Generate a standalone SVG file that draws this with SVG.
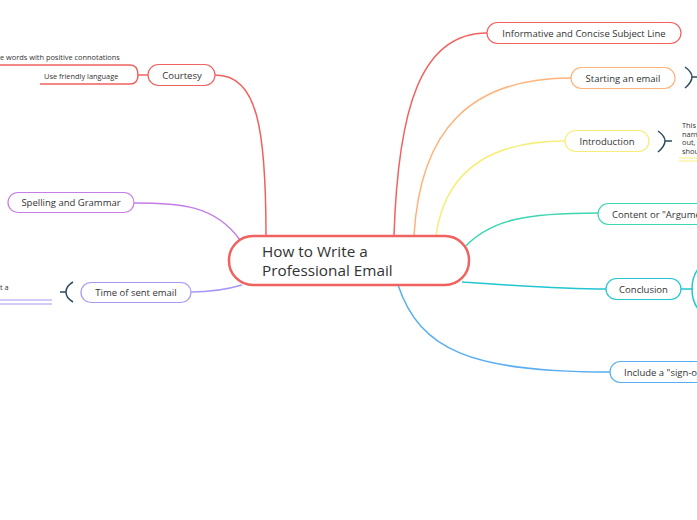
<svg xmlns="http://www.w3.org/2000/svg" width="697" height="520" viewBox="0 0 697 520">
<style>
text{font-family:"Open Sans","Lato","Liberation Sans",sans-serif;fill:#333}
.n{font-size:9.5px;text-anchor:middle;dominant-baseline:central}
.s{font-size:7.4px}
.c{fill:none;stroke-width:1.5}
rect{fill:#fff;stroke-width:1.2}
.br{fill:none;stroke:#2e4a5c;stroke-width:1.5}
</style>
<rect x="0" y="0" width="697" height="520" fill="#fdfdfd" stroke="none"/>
<g id="connectors">
<path class="c" stroke="#f0625f" d="M266,236 C266,130 258,75 215,75"/>
<path class="c" stroke="#c57ce8" d="M240,240 C215,205 180,203 134,203"/>
<path class="c" stroke="#a797f5" d="M242,285 C225,290 210,292 191,292"/>
<path class="c" stroke="#f0625f" d="M394,236 C398,110 420,33 487,33"/>
<path class="c" stroke="#ffb27a" d="M414,236 C420,130 470,78 571,78"/>
<path class="c" stroke="#f7ee7a" d="M436,236 C445,170 490,141 565,141"/>
<path class="c" stroke="#3fd6b2" d="M462,250 C490,218 530,213 598,213"/>
<path class="c" stroke="#22c5d0" d="M462,282 C520,286 560,289 606,289"/>
<path class="c" stroke="#5aaef0" d="M398,285 C420,350 470,372 610,372"/>
</g>
<g id="center">
<rect x="229" y="236" width="240" height="49" rx="24" stroke="#f0625f" style="stroke-width:2.5"/>
<text x="262" y="257" font-size="15.3">How to Write a</text>
<text x="262" y="276" font-size="15.3">Professional Email</text>
</g>
<g id="courtesy">
<line x1="138" y1="75" x2="148" y2="75" stroke="#f0625f" stroke-width="1.5"/>
<rect x="148" y="64.5" width="67" height="21" rx="10.5" stroke="#f0625f"/>
<text class="n" x="182" y="75">Courtesy</text>
</g>
<g id="positive-words">
<path class="c" stroke="#f0625f" d="M0,65 H130 Q138,65 138,75"/>
<text class="s" x="0" y="60">e words with positive connotations</text>
</g>
<g id="friendly-language">
<path class="c" stroke="#f0625f" d="M40,84 H130 Q138,84 138,75"/>
<text class="s" x="44" y="79">Use friendly language</text>
</g>
<g id="spelling">
<rect x="8" y="192.5" width="126" height="20" rx="10" stroke="#c57ce8"/>
<text class="n" x="71" y="202.5">Spelling and Grammar</text>
</g>
<g id="time-sent">
<rect x="81" y="282.5" width="110" height="20" rx="10" stroke="#a797f5"/>
<text class="n" x="136" y="292.5">Time of sent email</text>
<path class="br" d="M73,282 Q66,286 66,292 Q66,298 73,302 M66,292 H60"/>
</g>
<g id="time-child">
<text class="s" x="0" y="290">t a</text>
<line x1="0" y1="300" x2="52" y2="300" stroke="#a797f5" stroke-width="1"/>
<line x1="0" y1="304" x2="52" y2="304" stroke="#a797f5" stroke-width="1"/>
</g>
<g id="subject-line">
<rect x="487" y="22.5" width="194" height="21" rx="10.5" stroke="#f0625f"/>
<text class="n" x="584" y="33">Informative and Concise Subject Line</text>
</g>
<g id="starting">
<rect x="571" y="67.5" width="104" height="21" rx="10.5" stroke="#ffb27a"/>
<text class="n" x="623" y="78">Starting an email</text>
<path class="br" d="M685,67 Q692,72 692,77 Q692,82 685,88 M692,77 H697"/>
</g>
<g id="introduction">
<rect x="565" y="130.5" width="84" height="21" rx="10.5" stroke="#f7ee7a"/>
<text class="n" x="607" y="141">Introduction</text>
<path class="br" d="M658,131 Q665,136 665,141 Q665,146 658,152 M665,141 H672"/>
</g>
<g id="intro-child">
<text class="s" x="682" y="128">This</text>
<text class="s" x="682" y="136.5">nam</text>
<text class="s" x="682" y="145">out,</text>
<text class="s" x="682" y="153.5">shou</text>
<line x1="679" y1="158" x2="697" y2="158" stroke="#f7ee7a" stroke-width="1"/>
<line x1="679" y1="161" x2="697" y2="161" stroke="#f7ee7a" stroke-width="1"/>
</g>
<g id="content">
<rect x="598" y="203.5" width="130" height="21" rx="10.5" stroke="#3fd6b2"/>
<text class="n" x="612" y="214" style="text-anchor:start">Content or "Argument"</text>
</g>
<g id="conclusion">
<rect x="606" y="278.5" width="75" height="21" rx="10.5" stroke="#22c5d0"/>
<text class="n" x="643.5" y="289">Conclusion</text>
<line x1="681" y1="289" x2="693" y2="289" stroke="#22c5d0" stroke-width="1.5"/>
<path class="c" stroke="#22c5d0" d="M699,268 Q692,276 692,289 Q692,302 699,310"/>
</g>
<g id="sign-off">
<rect x="610" y="361.5" width="130" height="21" rx="10.5" stroke="#5aaef0"/>
<text class="n" x="624" y="372" style="text-anchor:start">Include a "sign-off"</text>
</g>
</svg>
